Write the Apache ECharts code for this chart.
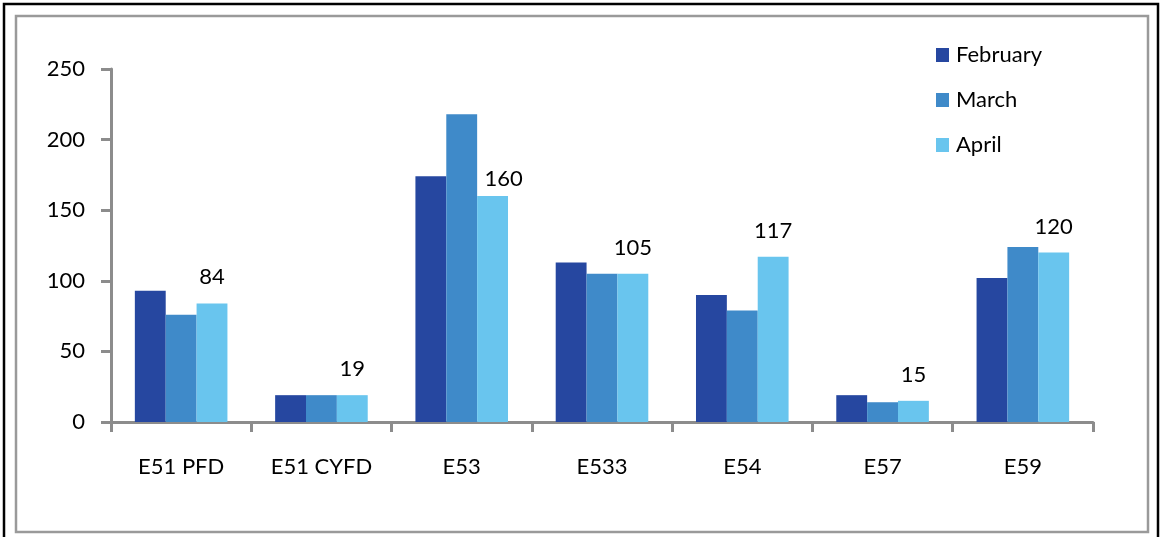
<!DOCTYPE html>
<html>
<head>
<meta charset="utf-8">
<script src="https://cdn.jsdelivr.net/npm/echarts@6/dist/echarts.min.js"></script>
<style>
  html, body { margin: 0; padding: 0; background: #fff; }
  #chart { width: 1161px; height: 537px; }
</style>
</head>
<body>
<div id="chart"></div>
<script>
// Monthly counts per unit
const categories = ['E51 PFD', 'E51 CYFD', 'E53', 'E533', 'E54', 'E57', 'E59'];
const february = [93, 19, 174, 113, 90, 19, 102];
const march = [76, 19, 218, 105, 79, 14, 124];
const april = [84, 19, 160, 105, 117, 15, 120];
const seriesNames = ['February', 'March', 'April'];
const yTicks = { min: 0, max: 250, interval: 50 };

const FONT = 'Lato';
const FONT_SIZE = 22;
const AXIS_GREY = '#8c8c8c';
const colors = ['#2647a0', '#3f8ac9', '#69c5ee'];

// April bars carry value labels; the E53 label sits to the right of the taller March bar
const aprilData = april.map((v, i) =>
  categories[i] === 'E53'
    ? { value: v, label: { offset: [11, 9] } }
    : v
);

const chart = echarts.init(document.getElementById('chart'), null, { renderer: 'canvas' });

chart.setOption({
  animation: false,
  backgroundColor: '#ffffff',
  textStyle: { fontFamily: FONT },
  graphic: [
    {
      type: 'rect',
      shape: { x: 4, y: 4, width: 1154, height: 540 },
      style: { fill: 'none', stroke: '#000000', lineWidth: 2.5 },
      silent: true
    },
    {
      type: 'rect',
      shape: { x: 16, y: 16, width: 1132, height: 516 },
      style: { fill: 'none', stroke: '#9a9a9a', lineWidth: 2.5 },
      silent: true
    }
  ],
  grid: { left: 111, top: 69, right: 68, bottom: 115, containLabel: false },
  legend: {
    orient: 'vertical',
    left: 931,
    top: 39,
    itemWidth: 13,
    itemHeight: 14,
    itemGap: 23,
    icon: 'rect',
    textStyle: { fontFamily: FONT, fontSize: FONT_SIZE, color: '#000', lineHeight: 22, padding: [0, 0, 0, 2] },
    data: seriesNames
  },
  xAxis: {
    type: 'category',
    data: categories,
    axisLine: { lineStyle: { color: AXIS_GREY, width: 3 } },
    axisTick: { show: true, length: 10, alignWithLabel: false, lineStyle: { color: AXIS_GREY, width: 3 } },
    axisLabel: { color: '#000', fontFamily: FONT, fontSize: FONT_SIZE, margin: 34, interval: 0 },
    splitLine: { show: false }
  },
  yAxis: {
    type: 'value',
    min: yTicks.min,
    max: yTicks.max,
    interval: yTicks.interval,
    axisLine: { show: true, lineStyle: { color: AXIS_GREY, width: 3 } },
    axisTick: { show: true, length: 10, lineStyle: { color: AXIS_GREY, width: 3 } },
    axisLabel: { color: '#000', fontFamily: FONT, fontSize: FONT_SIZE, margin: 26 },
    splitLine: { show: false }
  },
  series: [
    {
      name: seriesNames[0], type: 'bar', data: february,
      itemStyle: { color: colors[0] },
      barGap: '0%', barCategoryGap: '34%'
    },
    {
      name: seriesNames[1], type: 'bar', data: march,
      itemStyle: { color: colors[1] },
      barGap: '0%', barCategoryGap: '34%'
    },
    {
      name: seriesNames[2], type: 'bar', data: aprilData,
      itemStyle: { color: colors[2] },
      barGap: '0%', barCategoryGap: '34%',
      label: {
        show: true, position: 'top', distance: 15,
        color: '#000', fontFamily: FONT, fontSize: FONT_SIZE
      }
    }
  ]
});
</script>
</body>
</html>
